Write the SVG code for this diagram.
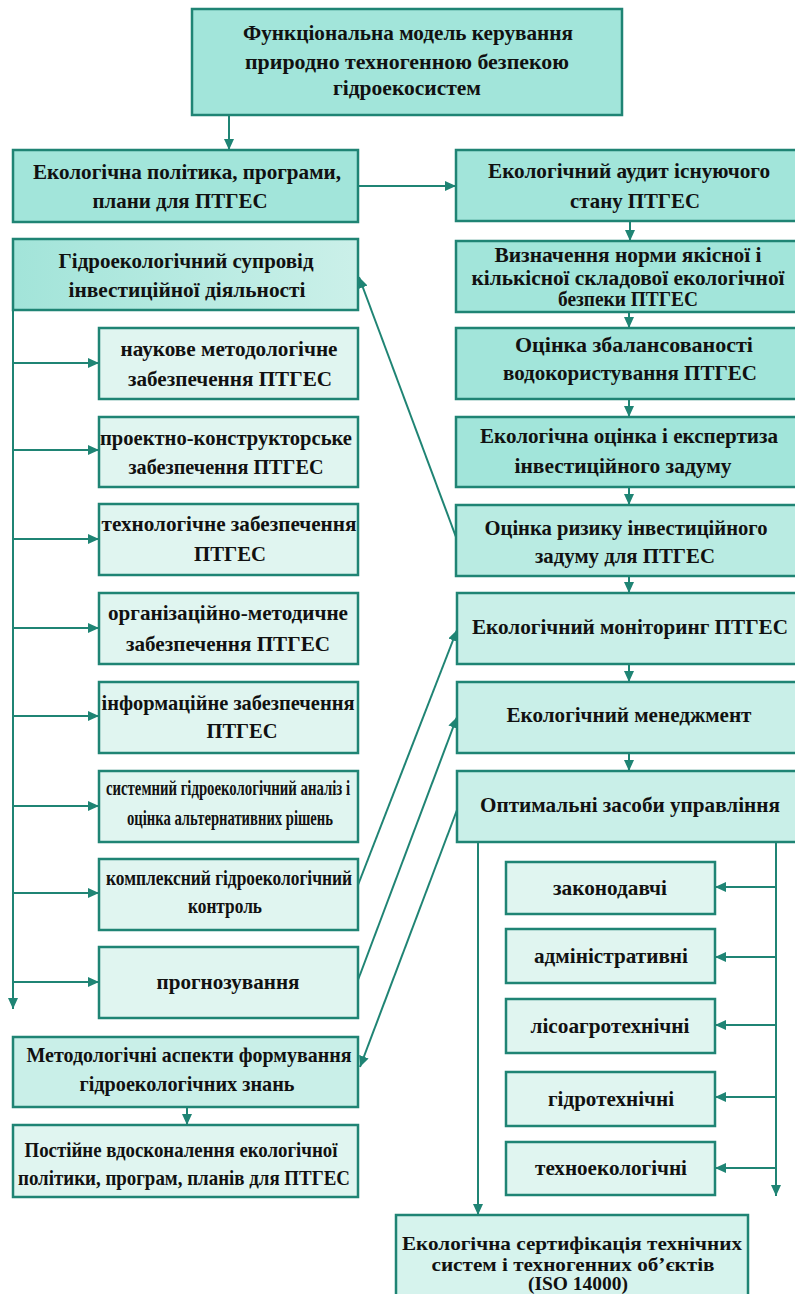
<svg xmlns="http://www.w3.org/2000/svg" width="795" height="1294" viewBox="0 0 795 1294">
<style>
  .box{stroke:#1f8474;stroke-width:2.5}
  .d{fill:#a2e5da}
  .m{fill:#b9ebe2}
  .l{fill:#c9efe8}
  .s{fill:#e0f5f0}
  text{font-family:"Liberation Serif","Times New Roman",serif;font-weight:bold;font-size:21px;fill:#111;text-anchor:middle}
  .sm{font-size:20px}
  .xs{font-size:19px}
  .c line{stroke:#1f8474;stroke-width:2;fill:none}
  .arr{marker-end:url(#ah)}
</style>
<defs>
  <marker id="ah" markerUnits="userSpaceOnUse" markerWidth="12" markerHeight="10" refX="11" refY="5" orient="auto">
    <path d="M0,0 L11,5 L0,10 z" fill="#1f8474"/>
  </marker>
  <linearGradient id="g1" x1="0" y1="0" x2="1" y2="0">
    <stop offset="0" stop-color="#a2e4d9"/>
    <stop offset="1" stop-color="#cbf0e9"/>
  </linearGradient>
</defs>
<rect width="795" height="1294" fill="#fff"/>

<g class="c">
  <line class="arr" x1="229" y1="115" x2="229" y2="150"/>
  <line class="arr" x1="358" y1="186" x2="456" y2="186"/>
  <line class="arr" x1="630" y1="221" x2="630" y2="241"/>
  <line class="arr" x1="629" y1="312" x2="629" y2="328"/>
  <line class="arr" x1="629" y1="399" x2="629" y2="417"/>
  <line class="arr" x1="629" y1="487" x2="629" y2="505"/>
  <line class="arr" x1="629" y1="576" x2="629" y2="593"/>
  <line class="arr" x1="629" y1="664" x2="629" y2="682"/>
  <line class="arr" x1="629" y1="753" x2="629" y2="771"/>
  <line class="arr" x1="456" y1="537" x2="359" y2="277"/>
  <line class="arr" x1="358" y1="885" x2="457" y2="630"/>
  <line class="arr" x1="358" y1="980" x2="457" y2="717"/>
  <line class="arr" x1="457" y1="810" x2="360" y2="1067"/>
  <line class="arr" x1="13" y1="310" x2="13" y2="1009"/>
  <line class="arr" x1="13" y1="363" x2="99" y2="363"/>
  <line class="arr" x1="13" y1="450" x2="99" y2="450"/>
  <line class="arr" x1="13" y1="539" x2="99" y2="539"/>
  <line class="arr" x1="13" y1="628" x2="99" y2="628"/>
  <line class="arr" x1="13" y1="716" x2="99" y2="716"/>
  <line class="arr" x1="13" y1="806" x2="99" y2="806"/>
  <line class="arr" x1="13" y1="893" x2="99" y2="893"/>
  <line class="arr" x1="13" y1="982" x2="99" y2="982"/>
  <line class="arr" x1="187" y1="1107" x2="187" y2="1125"/>
  <line class="arr" x1="478" y1="842" x2="478" y2="1215"/>
  <line class="arr" x1="776" y1="842" x2="776" y2="1196"/>
  <line class="arr" x1="776" y1="887" x2="715" y2="887"/>
  <line class="arr" x1="776" y1="957" x2="715" y2="957"/>
  <line class="arr" x1="776" y1="1025" x2="715" y2="1025"/>
  <line class="arr" x1="776" y1="1097" x2="715" y2="1097"/>
  <line class="arr" x1="776" y1="1168" x2="715" y2="1168"/>
</g>

<g id="n-top"><rect class="box d" x="192" y="9" width="430" height="106"/>
  <text x="408" y="40" textLength="330" lengthAdjust="spacingAndGlyphs">Функціональна модель керування</text>
  <text x="407" y="69" textLength="324" lengthAdjust="spacingAndGlyphs">природно техногенною безпекою</text>
  <text x="407" y="95" textLength="148" lengthAdjust="spacingAndGlyphs">гідроекосистем</text></g>

<g id="n-polityka"><rect class="box d" x="13" y="150" width="345" height="72"/>
  <text x="187" y="179" textLength="308" lengthAdjust="spacingAndGlyphs">Екологічна політика, програми,</text>
  <text x="180" y="208" textLength="175" lengthAdjust="spacingAndGlyphs">плани для ПТГЕС</text></g>

<g id="n-suprovid"><rect class="box" fill="url(#g1)" x="13" y="239" width="345" height="71"/>
  <text x="186" y="268" textLength="255" lengthAdjust="spacingAndGlyphs">Гідроекологічний супровід</text>
  <text x="187" y="297" textLength="237" lengthAdjust="spacingAndGlyphs">інвестиційної діяльності</text></g>

<g id="n-naukove"><rect class="box s" x="99" y="328" width="259" height="71"/>
  <text x="229" y="356" textLength="217" lengthAdjust="spacingAndGlyphs">наукове методологічне</text>
  <text x="230" y="386" textLength="204" lengthAdjust="spacingAndGlyphs">забезпечення ПТГЕС</text></g>

<g id="n-proektno"><rect class="box s" x="99" y="417" width="259" height="70"/>
  <text x="226" y="445" textLength="252" lengthAdjust="spacingAndGlyphs">проектно-конструкторське</text>
  <text x="226" y="474" textLength="195" lengthAdjust="spacingAndGlyphs">забезпечення ПТГЕС</text></g>

<g id="n-tekhnol"><rect class="box s" x="99" y="504" width="259" height="71"/>
  <text x="229" y="531" textLength="255" lengthAdjust="spacingAndGlyphs">технологічне забезпечення</text>
  <text x="230" y="561" textLength="72" lengthAdjust="spacingAndGlyphs">ПТГЕС</text></g>

<g id="n-orhan"><rect class="box s" x="99" y="593" width="259" height="71"/>
  <text x="228" y="620" textLength="240" lengthAdjust="spacingAndGlyphs">організаційно-методичне</text>
  <text x="228" y="651" textLength="204" lengthAdjust="spacingAndGlyphs">забезпечення ПТГЕС</text></g>

<g id="n-inform"><rect class="box s" x="99" y="682" width="259" height="71"/>
  <text x="228" y="710" textLength="253" lengthAdjust="spacingAndGlyphs">інформаційне забезпечення</text>
  <text x="242" y="738" textLength="71" lengthAdjust="spacingAndGlyphs">ПТГЕС</text></g>

<g id="n-system"><rect class="box s" x="99" y="771" width="259" height="71"/>
  <text x="228" y="795" textLength="244" lengthAdjust="spacingAndGlyphs">системний гідроекологічний аналіз і</text>
  <text x="230" y="825" textLength="206" lengthAdjust="spacingAndGlyphs">оцінка альтернативних рішень</text></g>

<g id="n-kompleks"><rect class="box s" x="99" y="859" width="259" height="71"/>
  <text x="229" y="885" textLength="246" lengthAdjust="spacingAndGlyphs">комплексний гідроекологічний</text>
  <text x="225" y="913" textLength="74" lengthAdjust="spacingAndGlyphs">контроль</text></g>

<g id="n-prohnoz"><rect class="box s" x="99" y="947" width="259" height="71"/>
  <text x="228" y="989" textLength="143" lengthAdjust="spacingAndGlyphs">прогнозування</text></g>

<g id="n-metod"><rect class="box l" x="13" y="1037" width="345" height="70"/>
  <text x="189" y="1062" textLength="325" lengthAdjust="spacingAndGlyphs">Методологічні аспекти формування</text>
  <text x="187" y="1091" textLength="215" lengthAdjust="spacingAndGlyphs">гідроекологічних знань</text></g>

<g id="n-postiyne"><rect class="box s" x="13" y="1125" width="345" height="72"/>
  <text x="181" y="1157" textLength="313" lengthAdjust="spacingAndGlyphs">Постійне вдосконалення екологічної</text>
  <text x="184" y="1185" textLength="332" lengthAdjust="spacingAndGlyphs">політики, програм, планів для ПТГЕС</text></g>

<g id="n-audyt"><rect class="box d" x="456" y="150" width="346" height="71"/>
  <text x="629" y="178" textLength="282" lengthAdjust="spacingAndGlyphs">Екологічний аудит існуючого</text>
  <text x="635" y="208" textLength="130" lengthAdjust="spacingAndGlyphs">стану ПТГЕС</text></g>

<g id="n-vyznach"><rect class="box d" x="456" y="241" width="346" height="71"/>
  <text class="sm" x="628" y="262" textLength="267" lengthAdjust="spacingAndGlyphs">Визначення норми якісної і</text>
  <text class="sm" x="628" y="285" textLength="313" lengthAdjust="spacingAndGlyphs">кількісної складової екологічної</text>
  <text class="sm" x="628" y="306" textLength="140" lengthAdjust="spacingAndGlyphs">безпеки ПТГЕС</text></g>

<g id="n-zbal"><rect class="box d" x="456" y="328" width="346" height="71"/>
  <text x="634" y="352" textLength="238" lengthAdjust="spacingAndGlyphs">Оцінка збалансованості</text>
  <text x="630" y="380" textLength="254" lengthAdjust="spacingAndGlyphs">водокористування ПТГЕС</text></g>

<g id="n-ekspert"><rect class="box d" x="456" y="417" width="346" height="70"/>
  <text x="629" y="443" textLength="298" lengthAdjust="spacingAndGlyphs">Екологічна оцінка і експертиза</text>
  <text x="623" y="473" textLength="217" lengthAdjust="spacingAndGlyphs">інвестиційного задуму</text></g>

<g id="n-ryzyk"><rect class="box m" x="456" y="505" width="346" height="71"/>
  <text x="626" y="535" textLength="283" lengthAdjust="spacingAndGlyphs">Оцінка ризику інвестиційного</text>
  <text x="625" y="563" textLength="180" lengthAdjust="spacingAndGlyphs">задуму для ПТГЕС</text></g>

<g id="n-monitor"><rect class="box l" x="457" y="593" width="345" height="71"/>
  <text x="630" y="634" textLength="316" lengthAdjust="spacingAndGlyphs">Екологічний моніторинг ПТГЕС</text></g>

<g id="n-menedzh"><rect class="box l" x="457" y="682" width="345" height="71"/>
  <text x="629" y="722" textLength="245" lengthAdjust="spacingAndGlyphs">Екологічний менеджмент</text></g>

<g id="n-optym"><rect class="box l" x="457" y="771" width="345" height="71"/>
  <text x="630" y="812" textLength="300" lengthAdjust="spacingAndGlyphs">Оптимальні засоби управління</text></g>

<g id="n-zakon"><rect class="box s" x="506" y="862" width="209" height="52"/>
  <text x="610" y="895" textLength="114" lengthAdjust="spacingAndGlyphs">законодавчі</text></g>
<g id="n-admin"><rect class="box s" x="506" y="929" width="209" height="54"/>
  <text x="611" y="963" textLength="154" lengthAdjust="spacingAndGlyphs">адміністративні</text></g>
<g id="n-lisoagro"><rect class="box s" x="506" y="999" width="209" height="54"/>
  <text x="610" y="1033" textLength="159" lengthAdjust="spacingAndGlyphs">лісоагротехнічні</text></g>
<g id="n-hidro"><rect class="box s" x="506" y="1072" width="209" height="54"/>
  <text x="611" y="1106" textLength="126" lengthAdjust="spacingAndGlyphs">гідротехнічні</text></g>
<g id="n-tekhnoekol"><rect class="box s" x="506" y="1142" width="209" height="53"/>
  <text x="611" y="1175" textLength="152" lengthAdjust="spacingAndGlyphs">техноекологічні</text></g>

<g id="n-sertyf"><rect class="box" fill="#d6f3ed" x="396" y="1215" width="352" height="90"/>
  <text class="xs" x="572" y="1250" textLength="340" lengthAdjust="spacingAndGlyphs">Екологічна сертифікація технічних</text>
  <text class="xs" x="573" y="1271" textLength="283" lengthAdjust="spacingAndGlyphs">систем і техногенних об’єктів</text>
  <text class="xs" x="578" y="1290" textLength="100" lengthAdjust="spacingAndGlyphs">(ISO 14000)</text></g>
</svg>
